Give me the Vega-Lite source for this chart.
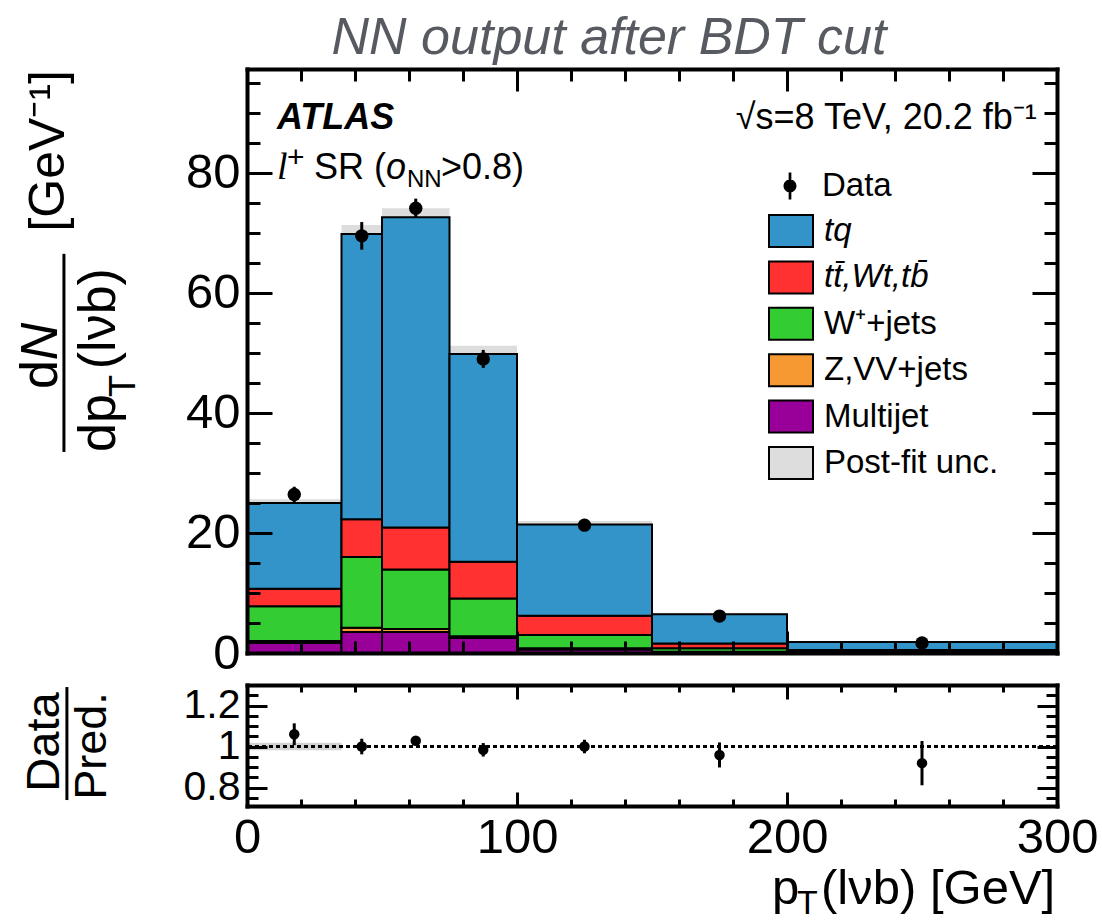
{
  "$schema": "https://vega.github.io/schema/vega-lite/v6.json",
  "background": "white",
  "padding": {"left": 14, "top": 11, "right": 5, "bottom": 5},
  "spacing": 5,
  "config": {
    "view": {"stroke": null},
    "font": "Liberation Sans",
    "axis": {"grid": false, "tickColor": "black", "domainColor": "black", "labelColor": "black", "tickWidth": 3, "domainWidth": 4, "domainCap": "square", "labelFont": "Liberation Sans"}
  },
  "resolve": {"scale": {"x": "independent", "y": "independent"}, "legend": {"color": "independent", "shape": "independent"}},
  "datasets": {
    "stack": [
      {"lo": 0, "hi": 35, "process": "Multijet", "rank": 1, "value": 1.7},
      {"lo": 0, "hi": 35, "process": "Z,VV+jets", "rank": 2, "value": 0.3},
      {"lo": 0, "hi": 35, "process": "W\u207a+jets", "rank": 3, "value": 5.8},
      {"lo": 0, "hi": 35, "process": "tt\u0304,Wt,tb\u0304", "rank": 4, "value": 2.9},
      {"lo": 0, "hi": 35, "process": "tq", "rank": 5, "value": 14.3},
      {"lo": 35, "hi": 50, "process": "Multijet", "rank": 1, "value": 3.5},
      {"lo": 35, "hi": 50, "process": "Z,VV+jets", "rank": 2, "value": 0.7},
      {"lo": 35, "hi": 50, "process": "W\u207a+jets", "rank": 3, "value": 11.8},
      {"lo": 35, "hi": 50, "process": "tt\u0304,Wt,tb\u0304", "rank": 4, "value": 6.3},
      {"lo": 35, "hi": 50, "process": "tq", "rank": 5, "value": 47.5},
      {"lo": 50, "hi": 75, "process": "Multijet", "rank": 1, "value": 3.5},
      {"lo": 50, "hi": 75, "process": "Z,VV+jets", "rank": 2, "value": 0.5},
      {"lo": 50, "hi": 75, "process": "W\u207a+jets", "rank": 3, "value": 9.9},
      {"lo": 50, "hi": 75, "process": "tt\u0304,Wt,tb\u0304", "rank": 4, "value": 7.0},
      {"lo": 50, "hi": 75, "process": "tq", "rank": 5, "value": 51.7},
      {"lo": 75, "hi": 100, "process": "Multijet", "rank": 1, "value": 2.5},
      {"lo": 75, "hi": 100, "process": "Z,VV+jets", "rank": 2, "value": 0.3},
      {"lo": 75, "hi": 100, "process": "W\u207a+jets", "rank": 3, "value": 6.3},
      {"lo": 75, "hi": 100, "process": "tt\u0304,Wt,tb\u0304", "rank": 4, "value": 6.1},
      {"lo": 75, "hi": 100, "process": "tq", "rank": 5, "value": 34.6},
      {"lo": 100, "hi": 150, "process": "Multijet", "rank": 1, "value": 0.6},
      {"lo": 100, "hi": 150, "process": "Z,VV+jets", "rank": 2, "value": 0.2},
      {"lo": 100, "hi": 150, "process": "W\u207a+jets", "rank": 3, "value": 2.2},
      {"lo": 100, "hi": 150, "process": "tt\u0304,Wt,tb\u0304", "rank": 4, "value": 3.2},
      {"lo": 100, "hi": 150, "process": "tq", "rank": 5, "value": 15.2},
      {"lo": 150, "hi": 200, "process": "Multijet", "rank": 1, "value": 0.15},
      {"lo": 150, "hi": 200, "process": "Z,VV+jets", "rank": 2, "value": 0.05},
      {"lo": 150, "hi": 200, "process": "W\u207a+jets", "rank": 3, "value": 0.6},
      {"lo": 150, "hi": 200, "process": "tt\u0304,Wt,tb\u0304", "rank": 4, "value": 0.8},
      {"lo": 150, "hi": 200, "process": "tq", "rank": 5, "value": 4.85},
      {"lo": 200, "hi": 300, "process": "Multijet", "rank": 1, "value": 0.02},
      {"lo": 200, "hi": 300, "process": "Z,VV+jets", "rank": 2, "value": 0.03},
      {"lo": 200, "hi": 300, "process": "W\u207a+jets", "rank": 3, "value": 0.15},
      {"lo": 200, "hi": 300, "process": "tt\u0304,Wt,tb\u0304", "rank": 4, "value": 0.3},
      {"lo": 200, "hi": 300, "process": "tq", "rank": 5, "value": 1.33}
    ],
    "band": [
      {"lo": 0, "hi": 35, "ulo": 24.4, "uhi": 25.6, "process": "Post-fit unc."},
      {"lo": 35, "hi": 50, "ulo": 68.3, "uhi": 71.3, "process": "Post-fit unc."},
      {"lo": 50, "hi": 75, "ulo": 71.1, "uhi": 74.1, "process": "Post-fit unc."},
      {"lo": 75, "hi": 100, "ulo": 48.4, "uhi": 51.2, "process": "Post-fit unc."},
      {"lo": 100, "hi": 150, "ulo": 20.8, "uhi": 22.0, "process": "Post-fit unc."},
      {"lo": 150, "hi": 200, "ulo": 6.2, "uhi": 6.7, "process": "Post-fit unc."},
      {"lo": 200, "hi": 300, "ulo": 1.7, "uhi": 1.95, "process": "Post-fit unc."}
    ],
    "pts": [
      {"center": 17.5, "data": 26.4, "err": 1.3, "ratio": 1.06, "rerr": 0.053},
      {"center": 42.5, "data": 69.5, "err": 2.3, "ratio": 1.0, "rerr": 0.038},
      {"center": 62.5, "data": 74.1, "err": 1.6, "ratio": 1.028, "rerr": 0.02},
      {"center": 87.5, "data": 49.0, "err": 1.5, "ratio": 0.984, "rerr": 0.033},
      {"center": 125, "data": 21.3, "err": 0.7, "ratio": 1.0, "rerr": 0.033},
      {"center": 175, "data": 6.15, "err": 0.39, "ratio": 0.959, "rerr": 0.061},
      {"center": 250, "data": 1.68, "err": 0.2, "ratio": 0.919, "rerr": 0.108}
    ],
    "rband": [
      {"lo": 0, "hi": 35, "rlo": 0.982, "rhi": 1.018}
    ],
    "one": [{}]
  },
  "vconcat": [
    {
      "width": 810,
      "height": 584,
      "title": {"text": "NN output after BDT cut", "font": "Liberation Sans", "fontSize": 52, "fontStyle": "italic", "fontWeight": "normal", "color": "#575b61", "anchor": "middle", "frame": "group", "dx": -43, "offset": -38, "baseline": "alphabetic"},
      "resolve": {"axis": {"x": "independent", "y": "independent"}},
      "layer": [
        {
          "data": {"name": "band"},
          "mark": {"type": "rect"},
          "encoding": {
            "x": {"field": "lo", "type": "quantitative", "scale": {"domain": [0, 300], "nice": false}, "axis": {"orient": "bottom", "values": [0, 100, 200, 300], "tickSize": -22, "labels": false, "domain": true, "title": null, "zindex": 1}},
            "x2": {"field": "hi"},
            "y": {"field": "ulo", "type": "quantitative", "scale": {"domain": [0, 97.3], "nice": false, "zero": false}, "axis": {"orient": "left", "values": [0, 20, 40, 60, 80], "tickSize": -25, "labelPadding": 32, "labelFontSize": 49, "labelOverlap": false, "labelBound": false, "labelFlush": false, "domain": true, "title": null, "zindex": 1}},
            "y2": {"field": "uhi"},
            "color": {
              "field": "process", "type": "nominal",
              "scale": {"domain": ["tq", "tt\u0304,Wt,tb\u0304", "W\u207a+jets", "Z,VV+jets", "Multijet", "Post-fit unc."], "range": ["#3394C9", "#FF3131", "#33CC33", "#F79933", "#990099", "#dddddd"]},
              "legend": {"orient": "none", "legendX": 521, "legendY": 139, "title": null, "padding": 0, "symbolType": "M-1,-0.7273H1V0.7273H-1Z", "symbolSize": 1936, "symbolStrokeColor": "black", "symbolStrokeWidth": 2, "symbolOpacity": 1, "labelFont": "Liberation Sans", "labelFontSize": 33, "labelColor": "black", "labelOffset": 10, "labelLimit": 400, "rowPadding": 2.4, "labelFontStyle": {"expr": "datum.label == 'tq' || datum.label == 'tt\u0304,Wt,tb\u0304' ? 'italic' : 'normal'"}}
            }
          }
        },
        {
          "data": {"name": "stack"},
          "transform": [{"stack": "value", "groupby": ["lo"], "sort": [{"field": "rank", "order": "ascending"}], "as": ["v0", "v1"]}],
          "mark": {"type": "rect", "stroke": "black", "strokeWidth": 2},
          "encoding": {
            "x": {"field": "lo", "type": "quantitative", "scale": {"domain": [0, 300], "nice": false}, "axis": {"orient": "bottom", "values": [20, 40, 60, 80, 120, 140, 160, 180, 220, 240, 260, 280], "tickSize": -12, "labels": false, "domain": false, "title": null, "zindex": 1}},
            "x2": {"field": "hi"},
            "y": {"field": "v0", "type": "quantitative", "scale": {"domain": [0, 97.3], "nice": false, "zero": false}, "axis": {"orient": "left", "values": [5, 10, 15, 25, 30, 35, 45, 50, 55, 65, 70, 75, 85, 90, 95], "tickSize": -13, "labels": false, "domain": false, "title": null, "zindex": 1}},
            "y2": {"field": "v1"},
            "color": {
              "field": "process", "type": "nominal",
              "legend": {"orient": "none", "legendX": 521, "legendY": 139, "title": null, "padding": 0, "symbolType": "M-1,-0.7273H1V0.7273H-1Z", "symbolSize": 1936, "symbolStrokeColor": "black", "symbolStrokeWidth": 2, "symbolOpacity": 1, "labelFont": "Liberation Sans", "labelFontSize": 33, "labelColor": "black", "labelOffset": 10, "labelLimit": 400, "rowPadding": 2.4, "labelFontStyle": {"expr": "datum.label == 'tq' || datum.label == 'tt\u0304,Wt,tb\u0304' ? 'italic' : 'normal'"}}
            }
          }
        },
        {
          "data": {"name": "pts"},
          "mark": {"type": "errorbar", "thickness": 3, "color": "black"},
          "encoding": {
            "x": {"field": "center", "type": "quantitative", "axis": null},
            "y": {"field": "data", "type": "quantitative", "axis": null},
            "yError": {"field": "err"}
          }
        },
        {
          "data": {"name": "pts"},
          "mark": {"type": "circle", "size": 180, "color": "black", "opacity": 1},
          "encoding": {
            "x": {"field": "center", "type": "quantitative", "axis": {"orient": "top", "values": [0, 100, 200, 300], "tickSize": -22, "labels": false, "domain": true, "title": null, "zindex": 1}},
            "y": {"field": "data", "type": "quantitative", "axis": {"orient": "right", "values": [0, 20, 40, 60, 80], "tickSize": -25, "labels": false, "domain": true, "title": null, "zindex": 1}}
          }
        },
        {
          "data": {"name": "pts"},
          "mark": {"type": "point", "filled": true, "color": "black", "opacity": 0},
          "encoding": {
            "x": {"field": "center", "type": "quantitative", "axis": {"orient": "top", "values": [20, 40, 60, 80, 120, 140, 160, 180, 220, 240, 260, 280], "tickSize": -12, "labels": false, "domain": false, "title": null, "zindex": 1}},
            "y": {"field": "data", "type": "quantitative", "axis": {"orient": "right", "values": [5, 10, 15, 25, 30, 35, 45, 50, 55, 65, 70, 75, 85, 90, 95], "tickSize": -13, "labels": false, "domain": false, "title": null, "zindex": 1}},
            "shape": {
              "datum": "Data",
              "scale": {"domain": ["Data"], "range": ["M-0.1,-1H0.1V1H-0.1ZM-0.48,0A0.48,0.48,0,1,1,0.48,0A0.48,0.48,0,1,1,-0.48,0Z"]},
              "legend": {"orient": "none", "legendX": 526.5, "legendY": 100.5, "title": null, "padding": 0, "symbolSize": 729, "symbolFillColor": "black", "symbolStrokeColor": "black", "symbolStrokeWidth": 0.5, "symbolOpacity": 1, "labelFont": "Liberation Sans", "labelFontSize": 33, "labelColor": "black", "labelOffset": 15.5}
            }
          }
        },
        {
          "data": {"name": "one"},
          "mark": {"type": "text", "text": "ATLAS", "font": "Liberation Sans", "fontSize": 36, "fontWeight": "bold", "fontStyle": "italic", "align": "left", "baseline": "alphabetic"},
          "encoding": {"x": {"datum": 11.1, "type": "quantitative", "axis": null}, "y": {"datum": 87.3, "type": "quantitative", "axis": null}}
        },
        {
          "data": {"name": "one"},
          "mark": {"type": "text", "text": "l", "font": "Liberation Serif", "fontSize": 38, "fontStyle": "italic", "align": "left", "baseline": "alphabetic"},
          "encoding": {"x": {"datum": 11.1, "type": "quantitative", "axis": null}, "y": {"datum": 79.0, "type": "quantitative", "axis": null}}
        },
        {
          "data": {"name": "one"},
          "mark": {"type": "text", "text": "+", "font": "Liberation Sans", "fontSize": 30, "align": "left", "baseline": "alphabetic", "dx": 10, "dy": -12},
          "encoding": {"x": {"datum": 11.1, "type": "quantitative", "axis": null}, "y": {"datum": 79.0, "type": "quantitative", "axis": null}}
        },
        {
          "data": {"name": "one"},
          "mark": {"type": "text", "text": "SR (", "font": "Liberation Sans", "fontSize": 36, "align": "left", "baseline": "alphabetic", "dx": 37},
          "encoding": {"x": {"datum": 11.1, "type": "quantitative", "axis": null}, "y": {"datum": 79.0, "type": "quantitative", "axis": null}}
        },
        {
          "data": {"name": "one"},
          "mark": {"type": "text", "text": "o", "font": "Liberation Sans", "fontSize": 36, "fontStyle": "italic", "align": "left", "baseline": "alphabetic", "dx": 109},
          "encoding": {"x": {"datum": 11.1, "type": "quantitative", "axis": null}, "y": {"datum": 79.0, "type": "quantitative", "axis": null}}
        },
        {
          "data": {"name": "one"},
          "mark": {"type": "text", "text": "NN", "font": "Liberation Sans", "fontSize": 24, "align": "left", "baseline": "alphabetic", "dx": 130, "dy": 8},
          "encoding": {"x": {"datum": 11.1, "type": "quantitative", "axis": null}, "y": {"datum": 79.0, "type": "quantitative", "axis": null}}
        },
        {
          "data": {"name": "one"},
          "mark": {"type": "text", "text": ">0.8)", "font": "Liberation Sans", "fontSize": 36, "align": "left", "baseline": "alphabetic", "dx": 164},
          "encoding": {"x": {"datum": 11.1, "type": "quantitative", "axis": null}, "y": {"datum": 79.0, "type": "quantitative", "axis": null}}
        },
        {
          "data": {"name": "one"},
          "mark": {"type": "text", "text": "\u221as=8 TeV, 20.2 fb\u207b\u00b9", "font": "Liberation Sans", "fontSize": 36, "align": "right", "baseline": "alphabetic"},
          "encoding": {"x": {"datum": 292.5, "type": "quantitative", "axis": null}, "y": {"datum": 87.3, "type": "quantitative", "axis": null}}
        },
        {
          "data": {"name": "one"},
          "mark": {"type": "text", "text": "d", "font": "Liberation Sans", "fontSize": 52, "angle": 270, "align": "center", "baseline": "alphabetic"},
          "encoding": {"x": {"datum": -70.4, "type": "quantitative", "axis": null}, "y": {"datum": 46.4, "type": "quantitative", "axis": null}}
        },
        {
          "data": {"name": "one"},
          "mark": {"type": "text", "text": "N", "font": "Liberation Sans", "fontSize": 52, "fontStyle": "italic", "angle": 270, "align": "center", "baseline": "alphabetic"},
          "encoding": {"x": {"datum": -70.4, "type": "quantitative", "axis": null}, "y": {"datum": 51.9, "type": "quantitative", "axis": null}}
        },
        {
          "data": {"name": "one"},
          "mark": {"type": "rule", "color": "black", "strokeWidth": 3},
          "encoding": {"x": {"datum": -67.8, "type": "quantitative", "axis": null}, "y": {"datum": 66.5, "type": "quantitative", "axis": null}, "y2": {"datum": 33.5}}
        },
        {
          "data": {"name": "one"},
          "mark": {"type": "text", "text": "dp", "font": "Liberation Sans", "fontSize": 52, "angle": 270, "align": "center", "baseline": "alphabetic"},
          "encoding": {"x": {"datum": -48.9, "type": "quantitative", "axis": null}, "y": {"datum": 38.3, "type": "quantitative", "axis": null}}
        },
        {
          "data": {"name": "one"},
          "mark": {"type": "text", "text": "T", "font": "Liberation Sans", "fontSize": 36, "angle": 270, "align": "center", "baseline": "alphabetic"},
          "encoding": {"x": {"datum": -41.5, "type": "quantitative", "axis": null}, "y": {"datum": 44.5, "type": "quantitative", "axis": null}}
        },
        {
          "data": {"name": "one"},
          "mark": {"type": "text", "text": "(l\u03bdb)", "font": "Liberation Sans", "fontSize": 52, "angle": 270, "align": "center", "baseline": "alphabetic"},
          "encoding": {"x": {"datum": -48.9, "type": "quantitative", "axis": null}, "y": {"datum": 55.7, "type": "quantitative", "axis": null}}
        },
        {
          "data": {"name": "one"},
          "mark": {"type": "text", "text": "[GeV\u207b\u00b9]", "font": "Liberation Sans", "fontSize": 50, "angle": 270, "align": "center", "baseline": "alphabetic"},
          "encoding": {"x": {"datum": -67.8, "type": "quantitative", "axis": null}, "y": {"datum": 83.67, "type": "quantitative", "axis": null}}
        }
      ]
    },
    {
      "width": 810,
      "height": 121,
      "resolve": {"axis": {"x": "independent", "y": "independent"}},
      "layer": [
        {
          "data": {"name": "rband"},
          "mark": {"type": "rect", "color": "#c8c8c8", "opacity": 0.8},
          "encoding": {
            "x": {"field": "lo", "type": "quantitative", "scale": {"domain": [0, 300], "nice": false}, "axis": {"orient": "bottom", "values": [0, 100, 200, 300], "tickSize": -14, "labelPadding": 21, "labelFontSize": 49, "labelFlush": false, "labelOverlap": false, "labelBound": false, "domain": true, "title": null, "zindex": 1}},
            "x2": {"field": "hi"},
            "y": {"field": "rlo", "type": "quantitative", "scale": {"domain": [0.71, 1.3], "nice": false, "zero": false}, "axis": {"orient": "left", "values": [0.8, 1, 1.2], "format": "~g", "tickSize": -20, "labelPadding": 27, "labelFontSize": 41, "labelOverlap": false, "labelBound": false, "labelFlush": false, "domain": true, "title": null, "zindex": 1}},
            "y2": {"field": "rhi"}
          }
        },
        {
          "data": {"name": "one"},
          "mark": {"type": "rule", "color": "black", "strokeWidth": 3, "strokeDash": [4, 3]},
          "encoding": {"y": {"datum": 1, "type": "quantitative", "axis": null}}
        },
        {
          "data": {"name": "pts"},
          "mark": {"type": "errorbar", "thickness": 3, "color": "black"},
          "encoding": {
            "x": {"field": "center", "type": "quantitative", "axis": null},
            "y": {"field": "ratio", "type": "quantitative", "axis": null},
            "yError": {"field": "rerr"}
          }
        },
        {
          "data": {"name": "pts"},
          "mark": {"type": "circle", "size": 110, "color": "black", "opacity": 1},
          "encoding": {
            "x": {"field": "center", "type": "quantitative", "axis": {"orient": "top", "values": [0, 100, 200, 300], "tickSize": -14, "labels": false, "domain": true, "title": null, "zindex": 1}},
            "y": {"field": "ratio", "type": "quantitative", "axis": {"orient": "right", "values": [0.8, 1, 1.2], "tickSize": -20, "labels": false, "domain": true, "title": null, "zindex": 1}}
          }
        },
        {
          "data": {"name": "pts"},
          "mark": {"type": "point", "opacity": 0},
          "encoding": {
            "x": {"field": "center", "type": "quantitative", "axis": {"orient": "bottom", "values": [20, 40, 60, 80, 120, 140, 160, 180, 220, 240, 260, 280], "tickSize": -7, "labels": false, "domain": false, "title": null, "zindex": 1}},
            "y": {"field": "ratio", "type": "quantitative", "axis": {"orient": "left", "values": [0.75, 0.85, 0.9, 0.95, 1.05, 1.1, 1.15, 1.25, 1.3], "tickSize": -11, "labels": false, "domain": false, "title": null, "zindex": 1}}
          }
        },
        {
          "data": {"name": "pts"},
          "mark": {"type": "point", "opacity": 0},
          "encoding": {
            "x": {"field": "center", "type": "quantitative", "axis": {"orient": "top", "values": [20, 40, 60, 80, 120, 140, 160, 180, 220, 240, 260, 280], "tickSize": -7, "labels": false, "domain": false, "title": null, "zindex": 1}},
            "y": {"field": "ratio", "type": "quantitative", "axis": {"orient": "right", "values": [0.75, 0.85, 0.9, 0.95, 1.05, 1.1, 1.15, 1.25, 1.3], "tickSize": -11, "labels": false, "domain": false, "title": null, "zindex": 1}}
          }
        },
        {
          "data": {"name": "one"},
          "mark": {"type": "text", "text": "Data", "font": "Liberation Sans", "fontSize": 47, "angle": 270, "align": "center", "baseline": "alphabetic"},
          "encoding": {"x": {"datum": -69.6, "type": "quantitative", "axis": null}, "y": {"datum": 1.022, "type": "quantitative", "axis": null}}
        },
        {
          "data": {"name": "one"},
          "mark": {"type": "rule", "color": "black", "strokeWidth": 3},
          "encoding": {"x": {"datum": -66.7, "type": "quantitative", "axis": null}, "y": {"datum": 1.29, "type": "quantitative", "axis": null}, "y2": {"datum": 0.739}}
        },
        {
          "data": {"name": "one"},
          "mark": {"type": "text", "text": "Pred.", "font": "Liberation Sans", "fontSize": 45, "angle": 270, "align": "center", "baseline": "alphabetic"},
          "encoding": {"x": {"datum": -52.2, "type": "quantitative", "axis": null}, "y": {"datum": 1.0024, "type": "quantitative", "axis": null}}
        },
        {
          "data": {"name": "one"},
          "mark": {"type": "text", "text": "p", "font": "Liberation Sans", "fontSize": 49, "align": "left", "baseline": "alphabetic"},
          "encoding": {"x": {"datum": 194.4, "type": "quantitative", "axis": null}, "y": {"datum": 0.232, "type": "quantitative", "axis": null}}
        },
        {
          "data": {"name": "one"},
          "mark": {"type": "text", "text": "T", "font": "Liberation Sans", "fontSize": 34, "align": "left", "baseline": "alphabetic"},
          "encoding": {"x": {"datum": 203.7, "type": "quantitative", "axis": null}, "y": {"datum": 0.183, "type": "quantitative", "axis": null}}
        },
        {
          "data": {"name": "one"},
          "mark": {"type": "text", "text": "(l\u03bdb) [GeV]", "font": "Liberation Sans", "fontSize": 49, "align": "left", "baseline": "alphabetic"},
          "encoding": {"x": {"datum": 212.6, "type": "quantitative", "axis": null}, "y": {"datum": 0.232, "type": "quantitative", "axis": null}}
        }
      ]
    }
  ]
}
